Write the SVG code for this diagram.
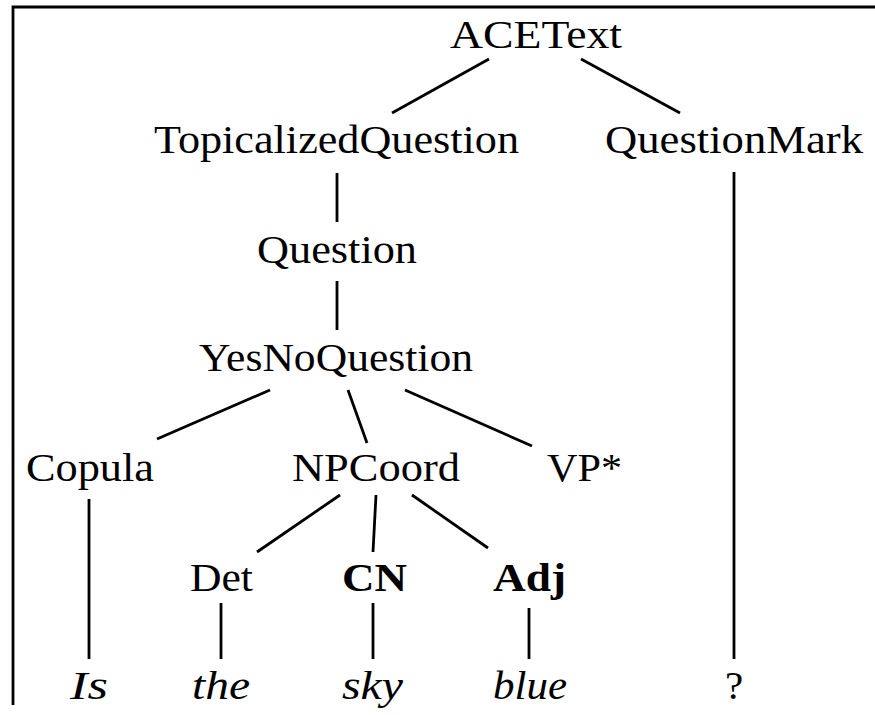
<svg xmlns="http://www.w3.org/2000/svg" width="875" height="715" viewBox="0 0 875 715">
<style>
text{font-family:"Liberation Serif","DejaVu Serif",serif;font-size:41px;fill:#000;text-anchor:middle}
.b{font-weight:bold}
.i{font-style:italic}
line,path{stroke:#000;stroke-width:2.8;fill:none}
</style>
<rect width="875" height="715" fill="#fff"/>
<path d="M13,705 V7 H875"/>
<g id="connectors">
<line x1="489" y1="59" x2="392" y2="113"/>
<line x1="581" y1="59" x2="680" y2="113"/>
<line x1="337" y1="173" x2="337" y2="222"/>
<line x1="734" y1="172" x2="734" y2="659"/>
<line x1="337" y1="281" x2="337" y2="330"/>
<line x1="270" y1="390" x2="157" y2="439"/>
<line x1="348" y1="390" x2="367" y2="443"/>
<line x1="405" y1="390" x2="532" y2="446"/>
<line x1="89" y1="499" x2="89" y2="659"/>
<line x1="340" y1="495" x2="257" y2="552"/>
<line x1="376" y1="495" x2="373" y2="552"/>
<line x1="412" y1="495" x2="488" y2="548"/>
<line x1="221" y1="603" x2="221" y2="659"/>
<line x1="373" y1="603" x2="373" y2="659"/>
<line x1="529" y1="608" x2="529" y2="659"/>
</g>
<g id="n-acetext"><text x="536" y="48" textLength="172" lengthAdjust="spacingAndGlyphs">ACEText</text></g>
<g id="n-topq"><text x="336.5" y="153" textLength="365" lengthAdjust="spacingAndGlyphs">TopicalizedQuestion</text></g>
<g id="n-qmark"><text x="734" y="153" textLength="258" lengthAdjust="spacingAndGlyphs">QuestionMark</text></g>
<g id="n-question"><text x="337" y="263" textLength="160" lengthAdjust="spacingAndGlyphs">Question</text></g>
<g id="n-yesno"><text x="336" y="371" textLength="274" lengthAdjust="spacingAndGlyphs">YesNoQuestion</text></g>
<g id="n-copula"><text x="90" y="481" textLength="128" lengthAdjust="spacingAndGlyphs">Copula</text></g>
<g id="n-npcoord"><text x="376" y="481" textLength="168" lengthAdjust="spacingAndGlyphs">NPCoord</text></g>
<g id="n-vp"><text x="584.5" y="481" textLength="75" lengthAdjust="spacingAndGlyphs">VP*</text></g>
<g id="n-det"><text x="221.5" y="591" textLength="63" lengthAdjust="spacingAndGlyphs">Det</text></g>
<g id="n-cn"><text class="b" x="374.5" y="591" textLength="65" lengthAdjust="spacingAndGlyphs">CN</text></g>
<g id="n-adj"><text class="b" x="529.5" y="591" textLength="73" lengthAdjust="spacingAndGlyphs">Adj</text></g>
<g id="n-is"><text class="i" x="89" y="699" textLength="38" lengthAdjust="spacingAndGlyphs">Is</text></g>
<g id="n-the"><text class="i" x="221" y="699" textLength="58" lengthAdjust="spacingAndGlyphs">the</text></g>
<g id="n-sky"><text class="i" x="372.5" y="699" textLength="61" lengthAdjust="spacingAndGlyphs">sky</text></g>
<g id="n-blue"><text class="i" x="530" y="699" textLength="74" lengthAdjust="spacingAndGlyphs">blue</text></g>
<g id="n-q"><text x="734" y="699">?</text></g>
</svg>
